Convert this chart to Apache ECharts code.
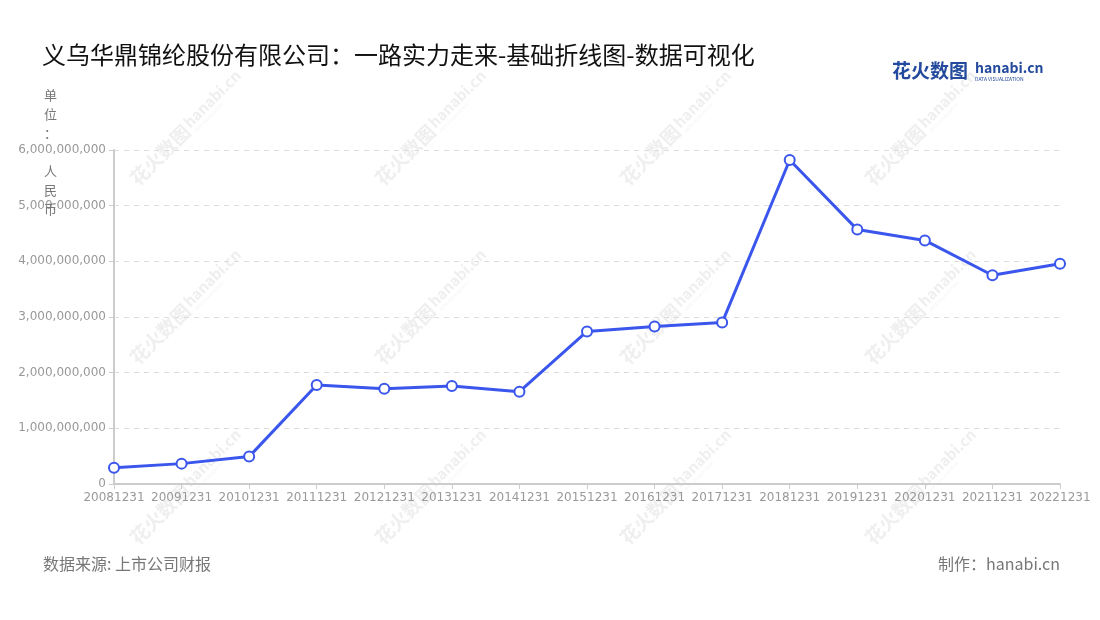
<!DOCTYPE html>
<html>
<head>
<meta charset="utf-8">
<script src="https://cdn.jsdelivr.net/npm/echarts@6/dist/echarts.min.js"></script>
<style>
html,body{margin:0;padding:0;background:#fff;}
#main{width:1100px;height:620px;}
</style>
</head>
<body>
<div id="main"></div>
<script>
const categories = ['20081231','20091231','20101231','20111231','20121231','20131231','20141231','20151231','20161231','20171231','20181231','20191231','20201231','20211231','20221231'];
const values = [294000000, 366000000, 492000000, 1777000000, 1713000000, 1760000000, 1659000000, 2740000000, 2830000000, 2900000000, 5820000000, 4570000000, 4375000000, 3750000000, 3957000000];
const yTicks = { min: 0, max: 6000000000, interval: 1000000000 };
const titleText = '义乌华鼎锦纶股份有限公司：一路实力走来-基础折线图-数据可视化';
const unitText = '单\n位\n：\n\n人\n民\n币';
const sourceText = '数据来源: 上市公司财报';
const makerText = '制作：hanabi.cn';

const FONT = '"Noto Sans CJK SC", "Noto Sans", sans-serif';

const watermarks = [];
const wxs = [184, 429, 674, 919];
const wys = [131, 310, 490];
wxs.forEach(x => wys.forEach(y => {
  watermarks.push({
    type: 'group', x: x, y: y, rotation: Math.PI / 4, silent: true, z: -10,
    children: [
      { type: 'text', x: -72, y: 0, style: { text: '花火数图', fill: '#efefef', font: 'bold 19px ' + FONT, verticalAlign: 'middle', align: 'left' } },
      { type: 'text', x: 6, y: -3, style: { text: 'hanabi.cn', fill: '#efefef', font: 'bold 15px ' + FONT, verticalAlign: 'middle', align: 'left' } },
      { type: 'text', x: 8, y: 8, style: { text: 'DATA VISUALIZATION', fill: '#f2f2f2', font: '4px ' + FONT, verticalAlign: 'middle', align: 'left' } }
    ]
  });
}));

const chart = echarts.init(document.getElementById('main'));
chart.setOption({
  backgroundColor: '#fff',
  animation: false,
  title: {
    text: titleText, left: 37, top: 38,
    textStyle: { fontSize: 24, fontWeight: 'normal', color: '#111', fontFamily: FONT }
  },
  grid: { left: 114, right: 40, top: 150, bottom: 136, containLabel: false },
  xAxis: {
    type: 'category', data: categories, boundaryGap: false,
    axisLine: { lineStyle: { color: '#ccc', width: 2 } },
    axisTick: { show: true, alignWithLabel: true, lineStyle: { color: '#ccc' } },
    axisLabel: { color: '#999', fontSize: 12, margin: 8, fontFamily: '"DejaVu Sans", sans-serif', interval: 0 },
    splitLine: { show: false }
  },
  yAxis: {
    type: 'value', min: yTicks.min, max: yTicks.max, interval: yTicks.interval,
    axisLine: { show: true, lineStyle: { color: '#ccc', width: 2 } },
    axisTick: { show: true, length: 5, lineStyle: { color: '#ccc' } },
    axisLabel: { color: '#999', fontSize: 12, margin: 8, fontFamily: '"DejaVu Sans", sans-serif',
      formatter: v => v.toLocaleString('en-US') },
    splitLine: { show: true, lineStyle: { color: '#ddd', type: [5, 5] } }
  },
  series: [{
    type: 'line', data: values,
    symbol: 'circle', symbolSize: 10,
    lineStyle: { color: '#3a56ec', width: 3 },
    itemStyle: { color: '#fff', borderColor: '#3a56ec', borderWidth: 2 },
    z: 5
  }],
  graphic: watermarks.concat([
    { type: 'text', left: 44, top: 86, z: 10, style: { text: unitText, fill: '#777', font: '13px ' + FONT, lineHeight: 19 } },
    { type: 'text', left: 892, top: 61, style: { text: '花火数图', fill: '#234a9c', font: 'bold 19px ' + FONT } },
    { type: 'text', left: 975, top: 61, style: { text: 'hanabi.cn', fill: '#234a9c', font: 'bold 14px ' + FONT } },
    { type: 'text', left: 975, top: 77, style: { text: 'DATA VISUALIZATION', fill: '#234a9c', font: '5px ' + FONT } },
    { type: 'text', left: 43, top: 556, style: { text: sourceText, fill: '#777', font: '16px ' + FONT } },
    { type: 'text', right: 40, top: 556, style: { text: makerText, fill: '#777', font: '16px ' + FONT } }
  ])
});
</script>
</body>
</html>
